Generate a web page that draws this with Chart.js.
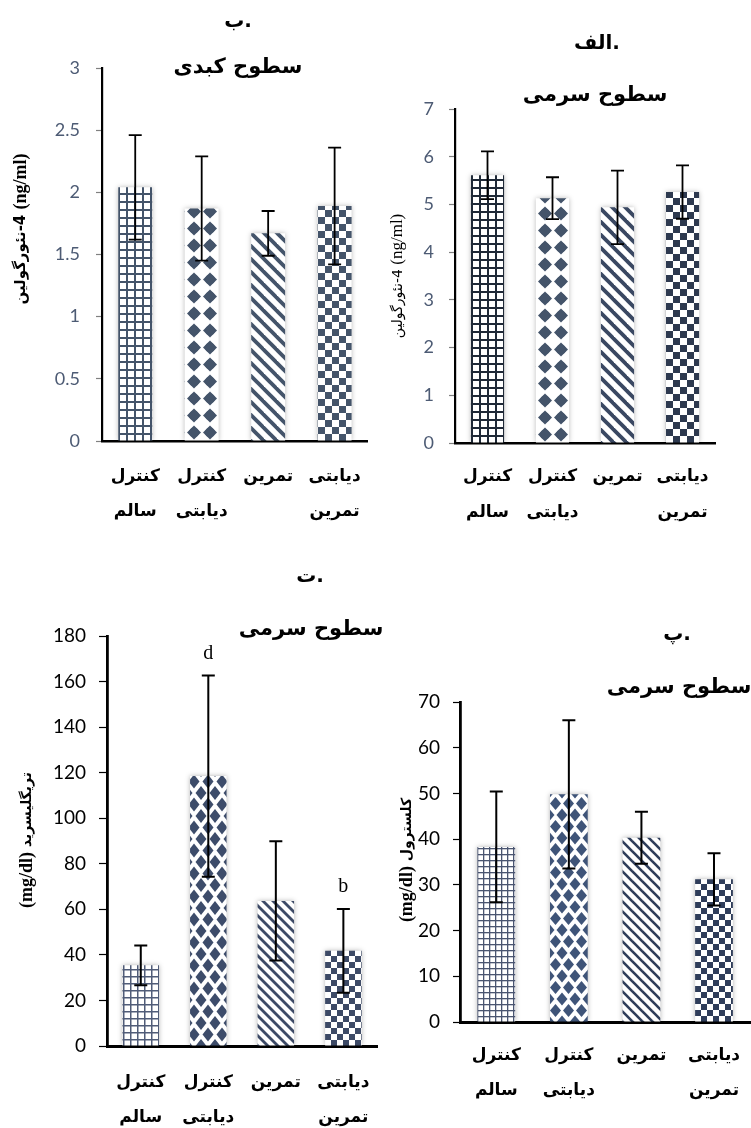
<!DOCTYPE html>
<html>
<head>
<meta charset="utf-8">
<script src="https://cdn.jsdelivr.net/npm/chart.js@4.4.1/dist/chart.umd.min.js"></script>
<style>
  html, body { margin: 0; padding: 0; background: #fff; overflow: hidden; }
  #page { position: relative; width: 751px; height: 1128px; overflow: hidden; background: #fff; }
  #page canvas { position: absolute; }
</style>
</head>
<body>
<div id="page">
  <canvas id="liverNrg"></canvas>
  <canvas id="serumNrg"></canvas>
  <canvas id="serumTg"></canvas>
  <canvas id="serumChol"></canvas>
</div>
<script>
// Groups (two-line labels)
const categories = [['کنترل', 'سالم'], ['کنترل', 'دیابتی'], ['تمرین'], ['دیابتی', 'تمرین']];

// ب. liver neuregulin-4 (ng/ml)
const liverNrgMean = [2.04, 1.87, 1.67, 1.89];
const liverNrgSd   = [0.42, 0.42, 0.18, 0.47];
const liverNrgTicks = [0, 0.5, 1, 1.5, 2, 2.5, 3];

// الف. serum neuregulin-4 (ng/ml)
const serumNrgMean = [5.61, 5.13, 4.94, 5.26];
const serumNrgSd   = [0.50, 0.44, 0.77, 0.56];
const serumNrgTicks = [0, 1, 2, 3, 4, 5, 6, 7];

// ت. serum triglyceride (mg/dl)
const tgMean = [35.4, 118.5, 63.7, 41.8];
const tgSd   = [8.7, 44.2, 26.2, 18.4];
const tgTicks = [0, 20, 40, 60, 80, 100, 120, 140, 160, 180];
const tgLetters = ['', 'd', '', 'b'];

// پ. serum cholesterol (mg/dl)
const cholMean = [38.3, 49.8, 40.3, 31.2];
const cholSd   = [12.1, 16.2, 5.7, 5.7];
const cholTicks = [0, 10, 20, 30, 40, 50, 60, 70];

const FA = "'DejaVu Sans'";
const SERIF = "'Liberation Serif'";

// small repeating tiles used as bar fills
function makeTile(f) {
  const c = document.createElement('canvas');
  c.width = f.w; c.height = f.h;
  const g = c.getContext('2d');
  g.fillStyle = '#fff'; g.fillRect(0, 0, f.w, f.h);
  g.fillStyle = f.color; g.strokeStyle = f.color;
  if (f.kind === 'grid') {
    g.fillRect(0, 0, f.w, f.line);
    g.fillRect(0, 0, f.line, f.h);
  } else if (f.kind === 'diamond') {
    const pts = f.stagger
      ? [[f.w / 2, f.h / 2], [0, 0], [f.w, 0], [0, f.h], [f.w, f.h]]
      : [[f.w / 2, f.h / 2]];
    for (const [cx, cy] of pts) {
      g.beginPath();
      g.moveTo(cx, cy - f.ry); g.lineTo(cx + f.rx, cy);
      g.lineTo(cx, cy + f.ry); g.lineTo(cx - f.rx, cy);
      g.closePath(); g.fill();
      if (f.round) { g.beginPath(); g.arc(cx, cy, f.round, 0, Math.PI * 2); g.fill(); }
    }
  } else if (f.kind === 'stripe') {
    g.lineWidth = f.line;
    for (let k = -2; k <= 2; k++) {
      g.beginPath();
      g.moveTo(k * f.w - f.w, -f.h);
      g.lineTo(k * f.w + 2 * f.w, 2 * f.h);
      g.stroke();
    }
  } else if (f.kind === 'checker') {
    g.fillRect(0, 0, f.w / 2, f.h / 2);
    g.fillRect(f.w / 2, f.h / 2, f.w / 2, f.h / 2);
  }
  return c;
}

// centred line made of runs placed left to right (letter, then full stop)
function drawText(ctx, t) {
  ctx.save();
  ctx.font = t.font;
  ctx.fillStyle = t.color || '#000';
  ctx.textBaseline = 'middle';
  ctx.textAlign = 'left';
  const runs = Array.isArray(t.text) ? t.text : [t.text];
  const widths = runs.map(s => ctx.measureText(s).width);
  let cur = t.x - widths.reduce((a, b) => a + b, 0) / 2;
  runs.forEach((s, i) => {
    ctx.direction = /[\u0600-\u06FF]/.test(s) ? 'rtl' : 'ltr';
    ctx.textAlign = 'left';
    ctx.fillText(s, cur, t.y);
    cur += widths[i];
  });
  ctx.restore();
}

// rotated axis caption built from runs laid out left to right
function drawVTitle(ctx, v) {
  ctx.save();
  ctx.translate(v.x, v.y);
  ctx.rotate(-Math.PI / 2);
  ctx.fillStyle = '#000';
  ctx.textBaseline = 'middle';
  ctx.textAlign = 'left';
  const widths = v.runs.map(([s, font]) => { ctx.font = font; return ctx.measureText(s).width; });
  let cur = -widths.reduce((a, b) => a + b, 0) / 2;
  v.runs.forEach(([s, font], i) => {
    ctx.font = font;
    ctx.direction = /[\u0600-\u06FF]/.test(s) ? 'rtl' : 'ltr';
    ctx.fillText(s, cur, 0);
    cur += widths[i];
  });
  ctx.restore();
}

function decor(p, patterns) {
  return {
    id: 'decor',
    beforeDatasetsDraw(chart) {
      const bottom = chart.chartArea.bottom;
      chart.getDatasetMeta(0).data.forEach((el, i) => {
        const f = p.fills[i];
        let ox;
        if (f.kind === 'diamond') ox = f.stagger ? el.x - f.w / 2 : el.x - f.w;
        else ox = el.x - el.width / 2;
        patterns[i].setTransform(new DOMMatrix([1, 0, 0, 1, Math.round(ox), Math.round(bottom)]));
      });
      const ctx = chart.ctx;
      ctx.save();
      ctx.shadowColor = p.shadow;
      ctx.shadowBlur = 5;
    },
    afterDatasetsDraw(chart) {
      const ctx = chart.ctx;
      ctx.restore();
      const y = chart.scales.y;
      ctx.save();
      ctx.strokeStyle = '#000';
      ctx.lineWidth = p.errW;
      chart.getDatasetMeta(0).data.forEach((el, i) => {
        const hi = y.getPixelForValue(p.mean[i] + p.sd[i]);
        const lo = y.getPixelForValue(p.mean[i] - p.sd[i]);
        ctx.beginPath();
        ctx.moveTo(el.x, hi); ctx.lineTo(el.x, lo);
        ctx.moveTo(el.x - p.cap, hi); ctx.lineTo(el.x + p.cap, hi);
        ctx.moveTo(el.x - p.cap, lo); ctx.lineTo(el.x + p.cap, lo);
        ctx.stroke();
        if (p.letters && p.letters[i]) {
          ctx.fillStyle = '#000';
          ctx.font = '20px ' + SERIF;
          ctx.textAlign = 'center';
          ctx.textBaseline = 'bottom';
          ctx.fillText(p.letters[i], el.x, hi - 12);
        }
      });
      ctx.restore();
    },
    afterDraw(chart) {
      p.texts.forEach(t => drawText(chart.ctx, t));
      drawVTitle(chart.ctx, p.vtitle);
    }
  };
}

function buildPanel(p) {
  const cv = document.getElementById(p.id);
  cv.width = p.w; cv.height = p.h;
  cv.style.left = p.x + 'px'; cv.style.top = p.y + 'px';
  cv.style.width = p.w + 'px'; cv.style.height = p.h + 'px';
  const ctx = cv.getContext('2d');
  const patterns = p.fills.map(f => ctx.createPattern(makeTile(f), 'repeat'));
  new Chart(cv, {
    type: 'bar',
    data: {
      labels: categories,
      datasets: [{
        data: p.mean,
        backgroundColor: patterns,
        borderWidth: 0,
        barPercentage: p.barPct,
        categoryPercentage: 1
      }]
    },
    options: {
      responsive: false,
      animation: false,
      devicePixelRatio: 1,
      events: [],
      layout: { padding: { left: 0, right: p.w - p.area.r, top: p.area.t, bottom: 0 } },
      plugins: { legend: { display: false }, tooltip: { enabled: false }, title: { display: false } },
      scales: {
        x: {
          type: 'category',
          offset: true,
          z: 1,
          grid: { display: false, drawTicks: false },
          border: { display: true, color: '#000', width: p.xAxisW },
          ticks: {
            color: '#000',
            font: { family: FA, size: p.xFont, weight: 'bold', lineHeight: p.xLine / p.xFont },
            padding: p.xPad,
            maxRotation: 0, minRotation: 0, autoSkip: false
          },
          afterFit: s => { s.height = p.h - p.area.b; }
        },
        y: {
          min: p.ticks[0],
          max: p.ticks[p.ticks.length - 1],
          z: 1,
          afterBuildTicks: s => { s.ticks = p.ticks.map(v => ({ value: v })); },
          grid: { drawOnChartArea: false, drawTicks: true, tickLength: p.tickLen, tickColor: p.tickColor, tickWidth: 1.2 },
          border: { display: true, color: '#000', width: p.yAxisW },
          ticks: {
            color: p.numColor,
            font: { family: 'Lato', size: p.numFont },
            padding: p.yPad,
            callback: v => String(v)
          },
          afterFit: s => { s.width = p.area.l; }
        }
      }
    },
    plugins: [decor(p, patterns)]
  });
}

const TOPC = '#44546a';

buildPanel({
  id: 'liverNrg', x: 0, y: 0, w: 380, h: 540,
  area: { l: 102, t: 68, r: 373, b: 441 },
  mean: liverNrgMean, sd: liverNrgSd, ticks: liverNrgTicks,
  barPct: 0.51, errW: 1.8, cap: 6.5, shadow: 'rgba(0,0,0,0.28)',
  xAxisW: 2.5, yAxisW: 2.2, xFont: 17, xLine: 35, xPad: 18.5,
  tickLen: 6, tickColor: '#808080', numColor: '#4d5b74', numFont: 18, yPad: 16,
  fills: [
    { kind: 'grid', color: TOPC, w: 8, h: 8, line: 2 },
    { kind: 'diamond', color: TOPC, w: 16, h: 17, rx: 7, ry: 7, round: 5 },
    { kind: 'stripe', color: TOPC, w: 13, h: 13, line: 3.8 },
    { kind: 'checker', color: TOPC, w: 14, h: 14 }
  ],
  texts: [
    { text: ['ب', '.'], x: 238, y: 22, font: 'bold 20px ' + FA },
    { text: 'سطوح کبدی', x: 238, y: 68, font: 'bold 21px ' + FA }
  ],
  vtitle: { x: 21, y: 229, runs: [
    ['نئورگولین', 'bold 15px ' + FA], ['-4 ', 'bold 15px ' + FA], ['(ng/ml)', 'bold 18px ' + SERIF]
  ] }
});

buildPanel({
  id: 'serumNrg', x: 380, y: 0, w: 371, h: 540,
  area: { l: 75, t: 109, r: 335, b: 443 },
  mean: serumNrgMean, sd: serumNrgSd, ticks: serumNrgTicks,
  barPct: 0.51, errW: 1.8, cap: 6.5, shadow: 'rgba(0,0,0,0.28)',
  xAxisW: 2.5, yAxisW: 2.2, xFont: 17, xLine: 36, xPad: 16,
  tickLen: 6, tickColor: '#808080', numColor: '#4d5b74', numFont: 18, yPad: 15,
  fills: [
    { kind: 'grid', color: '#1f2937', w: 8, h: 8, line: 2 },
    { kind: 'diamond', color: TOPC, w: 16, h: 17, rx: 7, ry: 7, round: 5 },
    { kind: 'stripe', color: '#3a4862', w: 13, h: 13, line: 3.8 },
    { kind: 'checker', color: '#2d394f', w: 14, h: 14 }
  ],
  texts: [
    { text: ['الف', '.'], x: 217, y: 44, font: 'bold 20px ' + FA },
    { text: 'سطوح سرمی', x: 215, y: 96, font: 'bold 21px ' + FA }
  ],
  vtitle: { x: 18, y: 276, runs: [
    ['نئورگولین', '14px ' + FA], ['-4 ', '14px ' + FA], ['(ng/ml)', '17px ' + SERIF]
  ] }
});

buildPanel({
  id: 'serumTg', x: 0, y: 560, w: 390, h: 568,
  area: { l: 107, t: 76, r: 381, b: 486 },
  mean: tgMean, sd: tgSd, ticks: tgTicks, letters: tgLetters,
  barPct: 0.54, errW: 2, cap: 6.5, shadow: 'rgba(0,0,0,0.3)',
  xAxisW: 3, yAxisW: 2.8, xFont: 17, xLine: 35, xPad: 19.5,
  tickLen: 8, tickColor: '#000', numColor: '#000', numFont: 19, yPad: 13,
  fills: [
    { kind: 'grid', color: '#505c78', w: 7, h: 7, line: 1.5 },
    { kind: 'diamond', color: '#3d4c6a', w: 14, h: 23, rx: 5.5, ry: 7, stagger: true },
    { kind: 'stripe', color: '#3d4a66', w: 10, h: 10, line: 2.8 },
    { kind: 'checker', color: '#3d4a66', w: 12, h: 12 }
  ],
  texts: [
    { text: ['ت', '.'], x: 310, y: 17, font: 'bold 20px ' + FA },
    { text: 'سطوح سرمی', x: 311, y: 70, font: 'bold 21px ' + FA }
  ],
  vtitle: { x: 27, y: 280, runs: [
    ['(mg/dl)', 'bold 18px ' + SERIF], [' ', 'bold 14px ' + FA], ['تریگلیسرید', 'bold 14px ' + FA]
  ] }
});

buildPanel({
  id: 'serumChol', x: 385, y: 560, w: 371, h: 568,
  area: { l: 75, t: 142, r: 371, b: 462 },
  mean: cholMean, sd: cholSd, ticks: cholTicks,
  barPct: 0.52, errW: 2, cap: 6.5, shadow: 'rgba(0,0,0,0.3)',
  xAxisW: 3, yAxisW: 2.8, xFont: 17, xLine: 35, xPad: 16,
  tickLen: 7, tickColor: '#000', numColor: '#000', numFont: 19, yPad: 13,
  fills: [
    { kind: 'grid', color: '#4a5570', w: 6, h: 6, line: 1.3 },
    { kind: 'diamond', color: '#3f5478', w: 13, h: 23, rx: 5.5, ry: 6.5, stagger: true },
    { kind: 'stripe', color: '#2f3d5a', w: 10, h: 10, line: 2.6 },
    { kind: 'checker', color: '#2f3d5a', w: 12, h: 12 }
  ],
  texts: [
    { text: ['پ', '.'], x: 292, y: 75, font: 'bold 20px ' + FA },
    { text: 'سطوح سرمی', x: 294, y: 128, font: 'bold 21px ' + FA }
  ],
  vtitle: { x: 22, y: 300, runs: [
    ['(mg/dl)', 'bold 18px ' + SERIF], [' ', 'bold 14px ' + FA], ['کلسترول', 'bold 14px ' + FA]
  ] }
});
</script>
</body>
</html>
